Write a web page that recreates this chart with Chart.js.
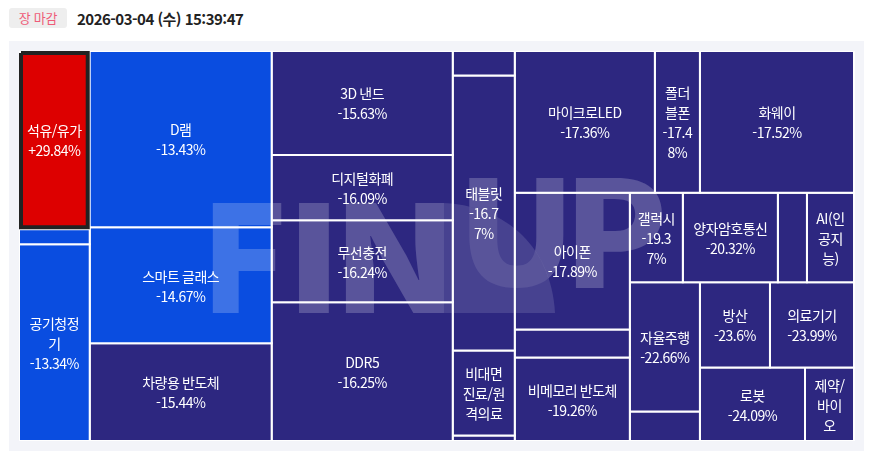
<!DOCTYPE html>
<html lang="ko">
<head>
<meta charset="utf-8">
<title>테마 히트맵</title>
<script src="https://cdn.jsdelivr.net/npm/chart.js@4/dist/chart.umd.min.js"></script>
<style>
  html, body { margin: 0; padding: 0; background: #fff; }
  body { width: 869px; height: 451px; position: relative; overflow: hidden; font-family: "Noto Sans CJK KR", "Noto Sans", sans-serif; }
  .badge { position: absolute; left: 9px; top: 8px; width: 58px; height: 20px; line-height: 20px; text-align: center; background: #eeeeee; border-radius: 3px; color: #ee5b78; font-size: 13px; letter-spacing: -0.3px; }
  .clock { position: absolute; left: 77px; top: 8px; height: 22px; line-height: 22px; font-size: 15px; font-weight: 700; color: #222; letter-spacing: -0.52px; white-space: nowrap; }
  .panel { position: absolute; left: 9px; top: 41px; width: 855px; height: 410px; background: #f3f4f9; }
  .plot { position: absolute; left: 19px; top: 51px; width: 836px; height: 390px; background: #fff; }
</style>
</head>
<body>
<div class="badge">장 마감</div>
<div class="clock">2026-03-04 (수) 15:39:47</div>
<div class="panel"></div>
<div class="plot"><canvas id="treemap" width="836" height="390"></canvas></div>
<script>
// 테마 이름 (빈 칸은 너무 작아서 이름이 안 보이는 칸)
const themeNames = [
  '석유/유가', '', '공기청정기',
  'D램', '스마트 글래스', '차량용 반도체',
  '3D 낸드', '디지털화폐', '무선충전', 'DDR5',
  '', '태블릿', '비대면 진료/원격의료', '',
  '마이크로LED', '폴더블폰', '화웨이',
  '아이폰', '', '비메모리 반도체',
  '갤럭시', '양자암호통신', '', 'AI(인공지능)',
  '자율주행', '', '방산', '의료기기', '로봇', '제약/바이오'
];
// 등락률 (칸이 좁아 숫자가 잘린 테마는 색으로 어림)
const themeChanges = [
  29.84, -10, -13.34,
  -13.43, -14.67, -15.44,
  -15.63, -16.09, -16.24, -16.25,
  -16.5, -16.77, -17.0, -17.2,
  -17.36, -17.48, -17.52,
  -17.89, -18.5, -19.26,
  -19.37, -20.32, -21, -21.5,
  -22.66, -23, -23.6, -23.99, -24.09, -24.5
];
// 값이 글자로 안 보이는 칸
const hiddenValues = [1, 10, 12, 13, 18, 22, 23, 25, 29];
// 칸 넓이
const themeWeights = [
  125.8, 10.6, 138.9,
  320, 210.9, 177.3,
  188, 117.7, 148.4, 250.7,
  15.2, 170.2, 52.7, 3.4,
  198.1, 63.7, 217.9,
  157, 32.2, 96,
  47.4, 85, 26, 42.1,
  90.3, 20.7, 59.5, 71.4, 77.2, 36
];
// 칸 묶음: row 는 옆으로, col 은 아래로 나눈다
const themeTree = ['row',
  ['col', 0, 1, 2],
  ['col', 3, 4, 5],
  ['col', 6, 7, 8, 9],
  ['col', 10, 11, 12, 13],
  ['col',
    ['row', 14, 15, 16],
    ['row',
      ['col', 17, 18, 19],
      ['col',
        ['row', 20, 21, 22, 23],
        ['row',
          ['col', 24, 25],
          ['col', ['row', 26, 27], ['row', 28, 29]]
        ]
      ]
    ]
  ]
];

const plotW = 835, plotH = 390;
const labelFont = '14px "Noto Sans CJK KR", "Noto Sans", sans-serif';
const labelPad = 6.4, lineGap = 20;

function weightOf(node) {
  if (typeof node === 'number') return themeWeights[node];
  return node.slice(1).reduce((sum, kid) => sum + weightOf(kid), 0);
}

function layout(node, x, y, w, h, out) {
  if (typeof node === 'number') {
    out[node] = { x, y, w, h };
    return out;
  }
  const total = weightOf(node);
  let at = 0;
  node.slice(1).forEach((kid) => {
    const part = weightOf(kid) / total;
    if (node[0] === 'row') layout(kid, x + at * w, y, part * w, h, out);
    else layout(kid, x, y + at * h, w, part * h, out);
    at += part;
  });
  return out;
}

function colorOf(change) {
  if (change > 0) return '#dd0000';
  if (change > -15) return '#0a4de0';
  return '#2d2780';
}

const cells = layout(themeTree, 0, 0, plotW, plotH, []);

const datasets = cells.map((c, i) => {
  // 상승 테마는 굵은 테두리를 칸 안쪽으로 넣는다
  const up = themeChanges[i] > 0;
  const inset = up ? 2 : 0;
  const x0 = c.x + inset, x1 = c.x + c.w - inset, y0 = c.y + inset, y1 = c.y + c.h - inset;
  return {
    label: themeNames[i],
    data: [{ x: x0, y: y0 }, { x: x1, y: y0 }, { x: x1, y: y1 }, { x: x0, y: y1 }, { x: x0, y: y0 }],
    backgroundColor: colorOf(themeChanges[i]),
    borderColor: up ? '#222222' : '#ffffff',
    borderWidth: up ? 4 : 2,
    borderJoinStyle: 'miter',
    fill: 'shape',
    pointRadius: 0,
    tension: 0,
    order: up ? 0 : 1
  };
});

function fitLetter(ctx, ch, x0, x1, y0, y1) {
  ctx.font = '900 150px "Noto Sans CJK KR", "Noto Sans", sans-serif';
  const m = ctx.measureText(ch);
  const gw = m.actualBoundingBoxLeft + m.actualBoundingBoxRight;
  const gh = m.actualBoundingBoxAscent + m.actualBoundingBoxDescent;
  ctx.save();
  ctx.translate(x0, y0);
  ctx.scale((x1 - x0) / gw, (y1 - y0) / gh);
  ctx.fillText(ch, m.actualBoundingBoxLeft, m.actualBoundingBoxAscent);
  ctx.restore();
}

function swoosh(ctx) {
  ctx.moveTo(424, 152);
  ctx.bezierCurveTo(480, 154, 532, 190, 536, 262);
  ctx.lineTo(424, 262);
  ctx.closePath();
}

function drawUP(ctx) {
  fitLetter(ctx, 'U', 450, 545, 127, 237);
  fitLetter(ctx, 'P', 556, 643, 127, 237);
}

// 배경 워터마크: 호 모양 위아래로 U 가 같은 밝기가 되도록 나눠 그린다
const watermarkPlugin = {
  id: 'watermark',
  afterDatasetsDraw(chart) {
    const ctx = chart.ctx;
    ctx.save();
    ctx.fillStyle = '#fff';
    ctx.textBaseline = 'alphabetic';
    ctx.textAlign = 'left';
    ctx.globalAlpha = 0.21;
    fitLetter(ctx, 'F', 193, 263, 152, 262);
    fitLetter(ctx, 'I', 279, 310, 152, 262);
    fitLetter(ctx, 'N', 326, 425, 152, 262);

    ctx.save();
    ctx.beginPath();
    ctx.rect(0, 0, plotW + 1, plotH);
    swoosh(ctx);
    ctx.clip('evenodd');
    drawUP(ctx);
    ctx.restore();

    ctx.save();
    ctx.beginPath();
    swoosh(ctx);
    ctx.clip();
    ctx.globalAlpha = 0.125;
    ctx.fillRect(0, 0, plotW + 1, plotH);
    ctx.globalAlpha = 0.097;
    drawUP(ctx);
    ctx.restore();
    ctx.restore();
  }
};

function wrapChars(ctx, text, maxW) {
  const lines = [];
  let line = '';
  // 숫자와 % 는 떼지 않는다
  for (const ch of text.match(/\d%|./gu)) {
    if (line && ctx.measureText(line + ch).width > maxW) {
      lines.push(line);
      line = ch;
    } else {
      line += ch;
    }
  }
  if (line) lines.push(line);
  return lines;
}

function wrapText(ctx, text, maxW) {
  // 낱말이 한 줄에 들어가면 공백에서 먼저 끊는다
  const lines = [];
  let line = '';
  text.split(' ').forEach((word) => {
    const next = line ? line + ' ' + word : word;
    if (ctx.measureText(next).width <= maxW) {
      line = next;
    } else {
      if (line) lines.push(line);
      const parts = wrapChars(ctx, word, maxW);
      line = parts.pop();
      lines.push(...parts);
    }
  });
  if (line) lines.push(line);
  return lines;
}

const labelPlugin = {
  id: 'cellLabels',
  afterDraw(chart) {
    const ctx = chart.ctx;
    const sx = chart.scales.x, sy = chart.scales.y;
    ctx.save();
    ctx.font = labelFont;
    ctx.letterSpacing = '-0.5px';
    ctx.fillStyle = '#fff';
    ctx.textAlign = 'center';
    ctx.textBaseline = 'middle';
    cells.forEach((c, i) => {
      if (!themeNames[i]) return;
      const left = sx.getPixelForValue(c.x), right = sx.getPixelForValue(c.x + c.w);
      const top = sy.getPixelForValue(c.y), bottom = sy.getPixelForValue(c.y + c.h);
      const change = themeChanges[i];
      const maxW = right - left - labelPad * 2;
      let lines = wrapText(ctx, themeNames[i], maxW);
      if (!hiddenValues.includes(i)) {
        const valueText = (change > 0 ? '+' : '') + change + '%';
        lines = lines.concat(wrapChars(ctx, valueText, maxW));
      }
      const cx = (left + right) / 2;
      const cy = (top + bottom) / 2 + 1;
      lines.forEach((line, n) => {
        ctx.fillText(line, cx, cy + (n - (lines.length - 1) / 2) * lineGap);
      });
    });
    ctx.restore();
  }
};

new Chart(document.getElementById('treemap'), {
  type: 'line',
  data: { datasets },
  plugins: [watermarkPlugin, labelPlugin],
  options: {
    responsive: false,
    animation: false,
    devicePixelRatio: 1,
    events: [],
    layout: { padding: 0 },
    plugins: { legend: { display: false }, tooltip: { enabled: false } },
    scales: {
      x: { type: 'linear', display: false, min: 0, max: 836 },
      y: { type: 'linear', display: false, min: 0, max: plotH, reverse: true }
    }
  }
});
</script>
</body>
</html>
